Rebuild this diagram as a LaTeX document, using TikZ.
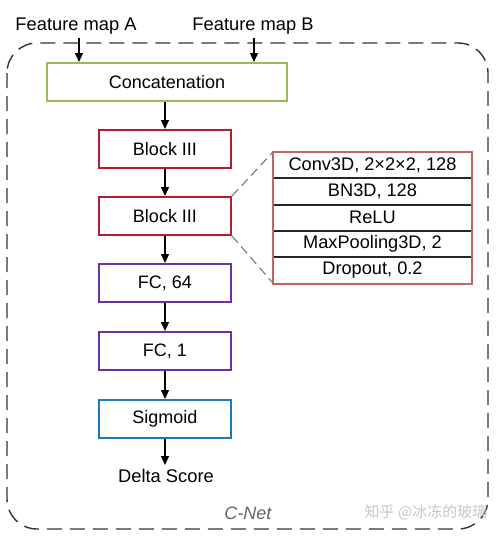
\documentclass[tikz,border=0pt]{standalone}
\usepackage{fontspec}
\setmainfont{Liberation Sans}
\newfontfamily\cjk{Noto Sans CJK SC}
\usetikzlibrary{arrows.meta}
\definecolor{cgreen}{HTML}{9BBB59}
\definecolor{cred}{HTML}{B01E2E}
\definecolor{cpurple}{HTML}{7030A0}
\definecolor{cblue}{HTML}{1F7AB8}
\definecolor{ctab}{HTML}{C0665C}
\tikzset{
  layer/.style={draw, line width=2pt, minimum width=132pt, minimum height=38pt, inner sep=0pt, font=\fontsize{18}{20}\selectfont, fill=white},
  row/.style={minimum width=198pt, minimum height=26.3pt, inner sep=0pt, font=\fontsize{18.2}{20}\selectfont},
  flow/.style={-{Triangle[length=9pt,width=8pt]}, line width=1.3pt, black},
  lbl/.style={font=\fontsize{18.3}{20}\selectfont, inner sep=0pt}
}
\begin{document}
\begin{tikzpicture}[x=1pt,y=-1pt]
\useasboundingbox (0,0) rectangle (500,536);
\fill[white] (0,0) rectangle (500,536);
% frame
\draw[dash pattern=on 15pt off 8pt, line width=1.4pt, color=black!80, rounded corners=30pt] (7,43) rectangle (488,529);
% inputs
\node[lbl] (fa) at (76,26) {Feature map A};
\node[lbl] (fb) at (253,26) {Feature map B};
\node[layer, draw=cgreen, minimum width=240pt, minimum height=38pt] (cat) at (167,82) {Concatenation};
\coordinate (ca) at (79,38);
\coordinate (cb) at (254,38);
\draw[flow] (ca) -- (cat.north -| ca);
\draw[flow] (cb) -- (cat.north -| cb);
% chain
\node[layer, draw=cred] (b1) at (165,149) {Block III};
\node[layer, draw=cred] (b2) at (165,216) {Block III};
\node[layer, draw=cpurple] (f1) at (165,283) {FC, 64};
\node[layer, draw=cpurple] (f2) at (165,351) {FC, 1};
\node[layer, draw=cblue] (sg) at (165,419) {Sigmoid};
\node[lbl, anchor=north] (ds) at (166,469) {Delta Score};
\draw[flow] (cat.south -| b1) -- (b1.north);
\draw[flow] (b1) -- (b2);
\draw[flow] (b2) -- (f1);
\draw[flow] (f1) -- (f2);
\draw[flow] (f2) -- (sg);
\draw[flow] (sg.south) -- ([yshift=4pt]sg.south |- ds.north);
% table
\node[row] (r1) at (372.5,165) {Conv3D, 2×2×2, 128};
\node[row] (r2) at (372.5,191.3) {BN3D, 128};
\node[row] (r3) at (372.5,217.6) {ReLU};
\node[row] (r4) at (372.5,243.9) {MaxPooling3D, 2};
\node[row] (r5) at (372.5,270.2) {Dropout, 0.2};
\foreach \r in {r1,r2,r3,r4}{\draw[line width=1.8pt, black!85] (\r.south west) -- (\r.south east);}
\draw[line width=2pt, ctab] (r1.north west) rectangle (r5.south east);
\draw[dash pattern=on 9pt off 5pt, line width=1.2pt, gray] (b2.north east) -- (r1.north west);
\draw[dash pattern=on 9pt off 5pt, line width=1.2pt, gray] (b2.south east) -- (r5.south west);
% labels
\node[lbl, font=\fontsize{18}{20}\selectfont\itshape, text=black!60] (cn) at (248,513) {C-Net};
\node[inner sep=0pt, font=\cjk\fontsize{15}{16}\selectfont, text=black!22] (wm) at (426,512) {知乎 @冰冻的玻璃};
\end{tikzpicture}
\end{document}
